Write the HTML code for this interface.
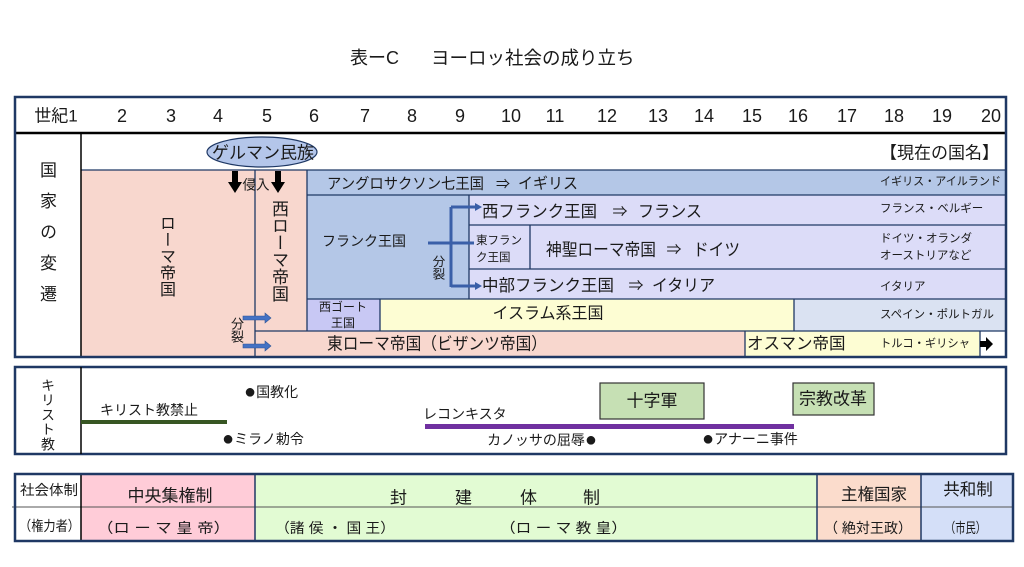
<!DOCTYPE html>
<html><head><meta charset="utf-8"><style>
body{margin:0;width:1024px;height:567px;background:#fff;position:relative;overflow:hidden;font-family:"Liberation Sans","Noto Sans CJK JP",sans-serif;}
svg{position:absolute;left:0;top:0}
.v{position:absolute;writing-mode:vertical-rl;color:#1a1a1a;white-space:nowrap;font-family:"Liberation Sans","Noto Sans CJK JP",sans-serif;}
</style></head><body>
<svg width="1024" height="567" font-family="'Liberation Sans','Noto Sans CJK JP',sans-serif" fill="#1a1a1a">
<!-- title -->
<text x="350" y="58" font-size="18" dominant-baseline="central">表ーC</text>
<text x="431" y="58" font-size="18.5" dominant-baseline="central">ヨーロッ社会の成り立ち</text>

<!-- main table fills -->
<rect x="81" y="170" width="226" height="188" fill="#f8d7ce"/>
<rect x="307" y="331" width="438" height="27" fill="#f8d7ce"/>
<rect x="745" y="331" width="235" height="27" fill="#fdfdd3"/>
<rect x="307" y="170" width="699" height="25" fill="#b4c7e7"/>
<rect x="307" y="195" width="162" height="104" fill="#b4c7e7"/>
<rect x="469" y="195" width="537" height="104" fill="#dcdcf8"/>
<rect x="307" y="299" width="73" height="32" fill="#c8c8f4"/>
<rect x="380" y="299" width="414" height="32" fill="#fdfdd3"/>
<rect x="794" y="299" width="212" height="32" fill="#dae2f2"/>

<g stroke="#1f3864" stroke-width="1.3" fill="none">
<path d="M81 170 H1006 M307 170 V331 M307 195 H1006 M469 195 V299 M469 225 H1006 M469 269 H1006 M530 225 V269 M307 299 H1006 M380 299 V331 M794 299 V331 M255 331 H1006 M255 170 V358 M745 331 V358 M980 331 V358"/>
</g>
<path d="M81 133 V358" stroke="#000" stroke-width="1.5"/>
<path d="M14 133 H1006" stroke="#000" stroke-width="2.5"/>
<rect x="15" y="97" width="991" height="260" fill="none" stroke="#1f3864" stroke-width="2.5"/>

<!-- header numbers -->
<g font-size="18" text-anchor="middle" dominant-baseline="central">
<text x="56" y="116" font-size="17">世紀1</text>
<text x="122" y="116">2</text>
<text x="171" y="116">3</text>
<text x="218" y="116">4</text>
<text x="267" y="116">5</text>
<text x="314" y="116">6</text>
<text x="365" y="116">7</text>
<text x="412" y="116">8</text>
<text x="460" y="116">9</text>
<text x="511" y="116">10</text>
<text x="555" y="116">11</text>
<text x="607" y="116">12</text>
<text x="658" y="116">13</text>
<text x="704" y="116">14</text>
<text x="752" y="116">15</text>
<text x="798" y="116">16</text>
<text x="847" y="116">17</text>
<text x="894" y="116">18</text>
<text x="942" y="116">19</text>
<text x="991" y="116">20</text>
</g>

<!-- germanic -->
<ellipse cx="262" cy="152" rx="55" ry="15" fill="#b4c6ea" stroke="#1f3864" stroke-width="1.2"/>
<text x="263" y="153" font-size="17" text-anchor="middle" dominant-baseline="central">ゲルマン民族</text>
<text x="999" y="153" font-size="17" text-anchor="end" dominant-baseline="central">【現在の国名】</text>

<!-- down arrows -->
<polygon points="232,171 238,171 238,182 242,182 235,193 228,182 232,182" fill="#000"/>
<polygon points="275,171 281,171 281,182 285,182 278,193 271,182 275,182" fill="#000"/>
<text x="256" y="185" font-size="13.5" text-anchor="middle" dominant-baseline="central">侵入</text>

<!-- blue split arrows left -->
<polygon points="243,316 265,316 265,313 271,318 265,323 265,320 243,320" fill="#4472c4" stroke="#2f5597" stroke-width="0.6"/>
<polygon points="243,344 265,344 265,341 271,346 265,351 265,348 243,348" fill="#4472c4" stroke="#2f5597" stroke-width="0.6"/>

<!-- fork -->
<g stroke="#3a5fa8" stroke-width="3" fill="none">
<path d="M428 243 H474 M451 207 V287 M451 207 H476 M451 286 H476"/>
</g>
<polygon points="475,203 482,207 475,211" fill="#3a5fa8"/>
<polygon points="475,282 482,286 475,290" fill="#3a5fa8"/>

<!-- main texts -->
<g dominant-baseline="central">
<text x="327" y="184" font-size="15" textLength="157" lengthAdjust="spacingAndGlyphs">アングロサクソン七王国</text>
<text x="503" y="184" font-size="14" text-anchor="middle">⇒</text>
<text x="518" y="184" font-size="15.5" textLength="60" lengthAdjust="spacingAndGlyphs">イギリス</text>

<text x="322" y="241" font-size="14">フランク王国</text>

<text x="482" y="212" font-size="16.5" textLength="115" lengthAdjust="spacingAndGlyphs">西フランク王国</text>
<text x="620" y="212" font-size="15" text-anchor="middle">⇒</text>
<text x="638" y="212" font-size="16.5" textLength="64" lengthAdjust="spacingAndGlyphs">フランス</text>

<text x="476" y="241" font-size="11.5">東フラン</text>
<text x="476" y="258" font-size="11.5">ク王国</text>

<text x="546" y="250" font-size="17" textLength="110" lengthAdjust="spacingAndGlyphs">神聖ローマ帝国</text>
<text x="674" y="250" font-size="15" text-anchor="middle">⇒</text>
<text x="693" y="250" font-size="17" textLength="47" lengthAdjust="spacingAndGlyphs">ドイツ</text>

<text x="482" y="286" font-size="16.5" textLength="132" lengthAdjust="spacingAndGlyphs">中部フランク王国</text>
<text x="636" y="286" font-size="15" text-anchor="middle">⇒</text>
<text x="652" y="286" font-size="16.5" textLength="63" lengthAdjust="spacingAndGlyphs">イタリア</text>

<text x="343" y="307" font-size="12" text-anchor="middle">西ゴート</text>
<text x="343" y="323" font-size="12" text-anchor="middle">王国</text>
<text x="548" y="314" font-size="16" text-anchor="middle">イスラム系王国</text>
<text x="327" y="344" font-size="17" textLength="220" lengthAdjust="spacingAndGlyphs">東ローマ帝国（ビザンツ帝国）</text>
<text x="747" y="344" font-size="16.5">オスマン帝国</text>
<g font-size="11.5">
<text x="880" y="182" textLength="121" lengthAdjust="spacingAndGlyphs">イギリス・アイルランド</text>
<text x="880" y="209">フランス・ベルギー</text>
<text x="880" y="239">ドイツ・オランダ</text>
<text x="880" y="256">オーストリアなど</text>
<text x="880" y="287">イタリア</text>
<text x="880" y="315" textLength="114" lengthAdjust="spacingAndGlyphs">スペイン・ポルトガル</text>
<text x="880" y="344" textLength="90" lengthAdjust="spacingAndGlyphs">トルコ・ギリシャ</text>
</g>
</g>
<polygon points="980,341 986,341 986,337 993,344 986,351 986,347 980,347" fill="#000"/>

<!-- christianity table -->
<rect x="15" y="367" width="991" height="87" fill="none" stroke="#1f3864" stroke-width="2.5"/>
<path d="M81 367 V454" stroke="#000" stroke-width="1.5"/>
<rect x="81" y="420" width="146" height="4" fill="#375623"/>
<rect x="425" y="424" width="369" height="5" fill="#7030a0"/>
<rect x="600" y="383" width="104" height="36" fill="#c6e0b4" stroke="#333" stroke-width="1.2"/>
<rect x="793" y="383" width="81" height="32" fill="#c6e0b4" stroke="#333" stroke-width="1.2"/>
<g dominant-baseline="central" font-size="14">
<text x="244" y="392"><tspan font-size="20">●</tspan>国教化</text>
<text x="100" y="410">キリスト教禁止</text>
<text x="222" y="439"><tspan font-size="20">●</tspan>ミラノ勅令</text>
<text x="423" y="414">レコンキスタ</text>
<text x="597" y="440" text-anchor="end">カノッサの屈辱<tspan font-size="20">●</tspan></text>
<text x="702" y="439"><tspan font-size="20">●</tspan>アナーニ事件</text>
<text x="652" y="401" font-size="17" text-anchor="middle">十字軍</text>
<text x="833" y="399" font-size="17" text-anchor="middle">宗教改革</text>
</g>

<!-- bottom table -->
<rect x="81" y="474" width="174" height="67" fill="#ffccd8"/>
<rect x="255" y="474" width="562" height="67" fill="#e2fbd3"/>
<rect x="817" y="474" width="104" height="67" fill="#fbdccc"/>
<rect x="921" y="474" width="92" height="67" fill="#d4dff8"/>
<path d="M12 507 H1013" stroke="#555" stroke-width="1"/>
<path d="M81 474 V541" stroke="#000" stroke-width="1.5"/>
<path d="M255 474 V541 M817 474 V541 M921 474 V541" stroke="#1f3864" stroke-width="1.5"/>
<rect x="15" y="474" width="998" height="67" fill="none" stroke="#1f3864" stroke-width="2.5"/>
<g dominant-baseline="central">
<text x="20" y="490" font-size="14" textLength="58" lengthAdjust="spacingAndGlyphs">社会体制</text>
<text x="19" y="526" font-size="14" textLength="61" lengthAdjust="spacingAndGlyphs">（権力者）</text>
<text x="170" y="496" font-size="17" text-anchor="middle">中央集権制</text>
<text x="97" y="528" font-size="14" textLength="133" lengthAdjust="spacingAndGlyphs">（ロ ー マ 皇 帝）</text>
<text x="390" y="498" font-size="17">封</text>
<text x="455" y="498" font-size="17">建</text>
<text x="520" y="498" font-size="17">体</text>
<text x="583" y="498" font-size="17">制</text>
<text x="275" y="528" font-size="14" textLength="120" lengthAdjust="spacingAndGlyphs">（諸 侯 ・ 国 王）</text>
<text x="500" y="528" font-size="14" textLength="127" lengthAdjust="spacingAndGlyphs">（ロ ー マ 教 皇）</text>
<text x="874" y="495" font-size="16.5" text-anchor="middle">主権国家</text>
<text x="824" y="528" font-size="14" textLength="88" lengthAdjust="spacingAndGlyphs">（ 絶対王政）</text>
<text x="968" y="490" font-size="16.5" text-anchor="middle">共和制</text>
<text x="945" y="528" font-size="14" textLength="41" lengthAdjust="spacingAndGlyphs">（市民）</text>
</g>
</svg>

<div class="v" style="left:38px;top:161px;font-size:17px;line-height:17px;letter-spacing:14px;">国家の変遷</div>
<div class="v" style="left:157px;top:215px;font-size:16px;line-height:16px;letter-spacing:0.5px;">ローマ帝国</div>
<div class="v" style="left:270px;top:200px;font-size:17px;line-height:17px;">西ローマ帝国</div>
<div class="v" style="left:230px;top:317px;font-size:13px;line-height:13px;">分裂</div>
<div class="v" style="left:431px;top:255px;font-size:12.5px;line-height:12.5px;">分裂</div>
<div class="v" style="left:41px;top:378px;font-size:14px;line-height:14px;letter-spacing:0.8px;">キリスト教</div>
</body></html>
